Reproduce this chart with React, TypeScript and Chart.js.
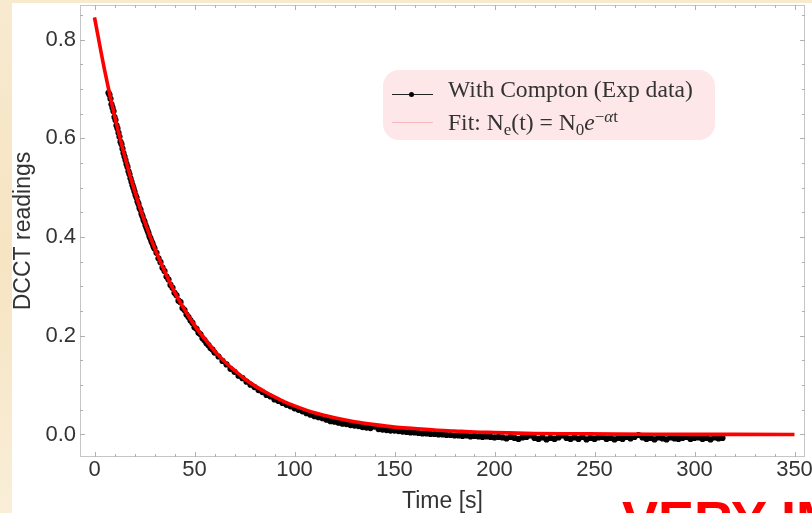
import React, { useEffect, useRef } from "react";
import { Chart, registerables } from "chart.js";

Chart.register(...registerables);

// ---- data ----
const EARLY_START = 7;
const EARLY_STEP = 0.5;
const earlyReadings = [
  0.692, 0.688, 0.68, 0.669, 0.662, 0.655, 0.643, 0.637, 0.626, 0.62,
  0.611, 0.603, 0.593, 0.588, 0.579, 0.57, 0.563, 0.556, 0.548, 0.542,
  0.533, 0.527, 0.519, 0.512, 0.505, 0.499, 0.492, 0.485, 0.48, 0.472,
  0.467, 0.459, 0.455, 0.447, 0.442, 0.435, 0.431, 0.424, 0.419, 0.413,
  0.408, 0.401, 0.397, 0.391, 0.387, 0.381, 0.377,
];

const MID_START = 31;
const MID_STEP = 1;
const midReadings = [
  0.368, 0.357, 0.349, 0.338, 0.331, 0.32, 0.314, 0.303, 0.297, 0.287,
  0.282, 0.271, 0.268, 0.256, 0.252, 0.243, 0.238, 0.231, 0.226, 0.217,
  0.214, 0.206, 0.203, 0.195, 0.191, 0.185, 0.181, 0.175, 0.172, 0.166,
];

const LATE_START = 62;
const LATE_STEP = 2;
const lateReadings = [
  0.158, 0.149, 0.142, 0.133, 0.127, 0.119, 0.114, 0.107, 0.101, 0.096,
  0.09, 0.086, 0.08, 0.077, 0.071, 0.068, 0.064, 0.06, 0.057, 0.053,
  0.05, 0.047, 0.043, 0.04, 0.037, 0.035, 0.033, 0.03, 0.027, 0.026,
  0.024, 0.022, 0.021, 0.019, 0.018, 0.017, 0.015, 0.014, 0.013, 0.016,
  0.011, 0.01, 0.009, 0.008, 0.008, 0.007, 0.006, 0.005, 0.004, 0.004,
  0.003, 0.002, 0.002, 0.001, 0.001, 0.0, 0.0, -0.001, -0.001, -0.002,
  -0.002, -0.003, -0.002, -0.004, -0.003, -0.004, -0.005, -0.004, -0.005, -0.006,
  -0.005, -0.006, -0.008, -0.005, -0.007, -0.009, -0.006, -0.005, -0.002, -0.007,
  -0.009, -0.006, -0.01, -0.007, -0.009, -0.006, -0.002, -0.007, -0.009, -0.006,
  -0.009, -0.005, -0.01, -0.007, -0.009, -0.006, -0.005, -0.009, -0.007, -0.01,
  -0.007, -0.009, -0.005, -0.008, -0.005, -0.001, -0.006, -0.009, -0.007, -0.01,
  -0.006, -0.008, -0.01, -0.006, -0.008, -0.009, -0.007, -0.005, -0.009, -0.007,
  -0.006, -0.009, -0.007, -0.01, -0.006, -0.008, -0.007,
];

const fitTimes = [
  0, 5, 10, 15, 20, 25, 30, 35, 40, 45, 50, 55, 60, 65, 70, 75, 80, 85, 90, 95,
  100, 110, 120, 130, 140, 150, 160, 170, 180, 190, 200, 220, 240, 260, 280, 300,
  320, 350,
];
const fitValues = [
  0.845, 0.739, 0.646, 0.565, 0.494, 0.432, 0.378, 0.331, 0.289, 0.253, 0.221,
  0.194, 0.169, 0.148, 0.13, 0.113, 0.099, 0.087, 0.076, 0.066, 0.058, 0.044,
  0.034, 0.026, 0.02, 0.015, 0.012, 0.009, 0.007, 0.005, 0.004, 0.002, 0.0014,
  0.0008, 0.0005, 0.0003, 0.0002, 0.0001,
];

const xMajorTicks = [0, 50, 100, 150, 200, 250, 300, 350];
const yMajorTicks = [0, 0.2, 0.4, 0.6, 0.8];
const X_MINOR_STEP = 10;
const Y_MINOR_STEP = 0.05;

const X_MIN = -7.25;
const X_MAX = 355.25;
const Y_MIN = -0.0456;
const Y_MAX = 0.87;

const SANS = "'Liberation Sans', Arial, Helvetica, sans-serif";
const SERIF = "'Liberation Serif', 'Times New Roman', Times, serif";

function segment(start: number, step: number, vals: number[]) {
  return vals.map((v, i) => ({ x: start + i * step, y: v }));
}

const framePlugin = {
  id: "mmaFrame",
  beforeDatasetsDraw(chart: any) {
    const { ctx, chartArea } = chart;
    const xs = chart.scales.x;
    const ys = chart.scales.y;
    const { left, right, top, bottom } = chartArea;
    ctx.save();
    ctx.lineWidth = 1;
    ctx.strokeStyle = "#c6c6c6";
    ctx.strokeRect(Math.round(left) + 0.5, Math.round(top) + 0.5, Math.round(right - left) - 1, Math.round(bottom - top) - 1);
    ctx.strokeStyle = "#b0b0b0";
    ctx.beginPath();
    for (let v = 0; v <= X_MAX + 1e-9; v += X_MINOR_STEP) {
      const major = xMajorTicks.some((m) => Math.abs(m - v) < 1e-6);
      const len = major ? 5 : 3;
      const px = Math.round(xs.getPixelForValue(v)) + 0.5;
      ctx.moveTo(px, bottom);
      ctx.lineTo(px, bottom - len);
      ctx.moveTo(px, top);
      ctx.lineTo(px, top + len);
    }
    for (let k = 0; k * Y_MINOR_STEP <= Y_MAX + 1e-9; k++) {
      const v = k * Y_MINOR_STEP;
      const major = yMajorTicks.some((m) => Math.abs(m - v) < 1e-6);
      const len = major ? 5 : 3;
      const py = Math.round(ys.getPixelForValue(v)) + 0.5;
      ctx.moveTo(left, py);
      ctx.lineTo(left + len, py);
      ctx.moveTo(right, py);
      ctx.lineTo(right - len, py);
    }
    ctx.stroke();
    ctx.restore();
  },
};

export default function App() {
  const canvasRef = useRef<HTMLCanvasElement | null>(null);

  useEffect(() => {
    const canvas = canvasRef.current;
    if (!canvas) return;
    const readings = [
      ...segment(EARLY_START, EARLY_STEP, earlyReadings),
      ...segment(MID_START, MID_STEP, midReadings),
      ...segment(LATE_START, LATE_STEP, lateReadings),
    ];
    const fit = fitTimes.map((t, i) => ({ x: t, y: fitValues[i] }));

    const chart = new Chart(canvas, {
      type: "line",
      data: {
        datasets: [
          {
            label: "Fit",
            data: fit,
            borderColor: "#ff0000",
            borderWidth: 3.6,
            pointRadius: 0,
            cubicInterpolationMode: "monotone",
            fill: false,
            order: 0,
          },
          {
            label: "With Compton (Exp data)",
            data: readings,
            borderColor: "#000000",
            borderWidth: 1,
            pointRadius: 3.1,
            pointBackgroundColor: "#000000",
            pointBorderWidth: 0,
            fill: false,
            order: 1,
          },
        ],
      },
      options: {
        responsive: false,
        animation: false,
        devicePixelRatio: 1,
        layout: { padding: { top: 5, right: 7, left: 0, bottom: 0 } },
        plugins: {
          legend: { display: false },
          tooltip: { enabled: false },
        },
        scales: {
          x: {
            type: "linear",
            min: X_MIN,
            max: X_MAX,
            grid: { display: false, drawTicks: false },
            border: { display: false },
            ticks: {
              stepSize: 50,
              includeBounds: false,
              autoSkip: false,
              maxRotation: 0,
              padding: 0,
              color: "#333333",
              font: { family: SANS, size: 22 },
              callback: (v: any) => String(v),
            },
            title: {
              display: true,
              text: "Time [s]",
              color: "#333333",
              font: { family: SANS, size: 23, lineHeight: 1 },
              padding: 0,
            },
            afterFit: (s: any) => {
              s.height = 56;
              s.paddingLeft = 0;
              s.paddingRight = 0;
            },
          },
          y: {
            type: "linear",
            min: Y_MIN,
            max: Y_MAX,
            grid: { display: false, drawTicks: false },
            border: { display: false },
            ticks: {
              stepSize: 0.2,
              includeBounds: false,
              padding: 4,
              color: "#333333",
              font: { family: SANS, size: 22 },
              callback: (v: any) => Number(v).toFixed(1),
            },
            title: {
              display: true,
              text: "DCCT readings",
              color: "#333333",
              font: { family: SANS, size: 23 },
              padding: { top: 10, bottom: 0 },
            },
            afterFit: (s: any) => {
              s.width = 80;
              s.paddingTop = 0;
              s.paddingBottom = 0;
            },
          },
        },
      },
      plugins: [framePlugin],
    } as any);

    return () => chart.destroy();
  }, []);

  const legendText: React.CSSProperties = {
    position: "absolute",
    left: 448,
    fontFamily: SERIF,
    fontSize: 23.6,
    lineHeight: "26px",
    color: "#333333",
    whiteSpace: "nowrap",
  };

  return (
    <div
      style={{
        position: "fixed",
        left: 0,
        top: 0,
        width: 812,
        height: 513,
        overflow: "hidden",
        background: "linear-gradient(180deg, #f8ead0 0%, #f6e4c2 50%, #f9eed8 100%)",
      }}
    >
      <div style={{ position: "absolute", left: 12, top: 3, right: 0, bottom: 0, background: "#ffffff" }} />
      <canvas ref={canvasRef} width={812} height={513} style={{ position: "absolute", left: 0, top: 0, width: 812, height: 513 }} />
      {/* legend */}
      <div style={{ position: "absolute", left: 383, top: 70, width: 332, height: 70, background: "#fde7e9", borderRadius: 16 }} />
      <div style={{ position: "absolute", left: 392, top: 94, width: 41, height: 1, background: "#222" }} />
      <div style={{ position: "absolute", left: 409, top: 92, width: 5, height: 5, borderRadius: "50%", background: "#000" }} />
      <div style={{ ...legendText, top: 75.5 }}>With Compton (Exp data)</div>
      <div style={{ position: "absolute", left: 392, top: 122, width: 41, height: 1, background: "#f6b9bd" }} />
      <div style={{ ...legendText, top: 103.5 }}>
        Fit: N<span style={{ fontSize: "72%", verticalAlign: "-0.25em" }}>e</span>(t) = N
        <span style={{ fontSize: "72%", verticalAlign: "-0.25em" }}>0</span>
        <i>e</i>
        <span style={{ fontSize: "72%", verticalAlign: "0.5em" }}>
          −<i>α</i>t
        </span>
      </div>
      {/* red banner text */}
      <div
        style={{
          position: "absolute",
          left: 622,
          top: 493,
          fontFamily: SANS,
          fontWeight: "bold",
          fontSize: 54,
          lineHeight: "54px",
          color: "#ff0000",
          whiteSpace: "nowrap",
        }}
      >
        VERY IMPORTANT
      </div>
    </div>
  );
}
